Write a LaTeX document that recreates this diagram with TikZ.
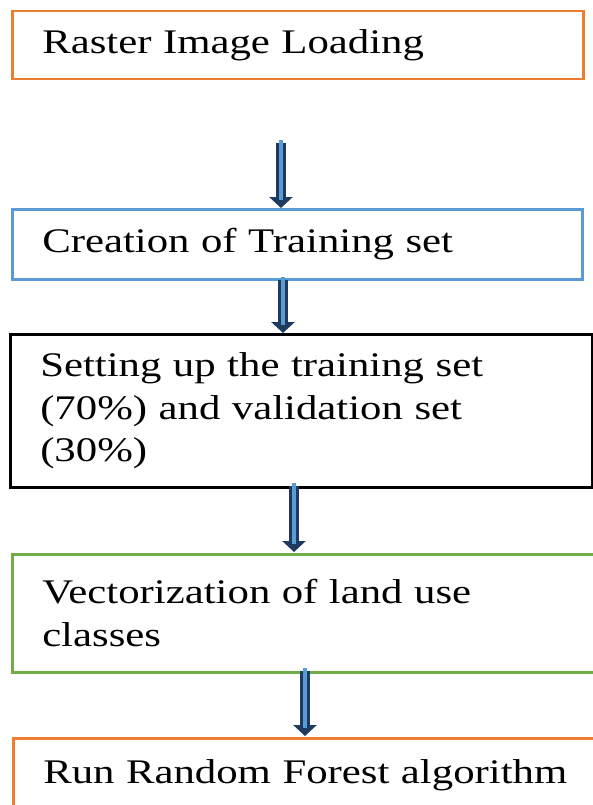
\documentclass[tikz,border=0pt]{standalone}
\usepackage{fontspec}
\setmainfont[FakeStretch=1.24]{Liberation Serif}
\usetikzlibrary{arrows.meta}
\definecolor{boxorange}{HTML}{ED7D31}
\definecolor{boxblue}{HTML}{5B9BD5}
\definecolor{boxgreen}{HTML}{70AD47}
\definecolor{arrowedge}{HTML}{1F3A5F}
\definecolor{arrowfill}{HTML}{5B9BD5}
\tikzset{
  stepbox/.style={draw, line width=2.5pt, anchor=north west, align=left,
    inner xsep=30pt, inner ysep=0pt, font=\fontsize{34.5}{42.5}\selectfont},
  blockarrow/.style={line width=10pt, arrowedge,
    -{Triangle[length=11pt,width=23pt]}, shorten >=0pt},
  blockcore/.style={line width=4pt, arrowfill, shorten >=8pt},
}
\begin{document}
\begin{tikzpicture}[x=1pt,y=-1pt]
\useasboundingbox (0,0) rectangle (593,805);
\clip (0,0) rectangle (593,805);
\node[stepbox, draw=boxorange, minimum width=571pt, minimum height=68pt, text width=511pt] (load) at (11,10) {Raster Image Loading};
\node[stepbox, draw=boxblue, minimum width=570pt, minimum height=70pt, text width=510pt] (train) at (11,208) {Creation of Training set};
\node[stepbox, draw=black, minimum width=582pt, minimum height=153pt, text width=522pt] (split) at (9,333) {Setting up the training set\\(70\%) and validation set\\(30\%)};
\node[stepbox, draw=boxgreen, minimum width=590pt, minimum height=118pt, text width=530pt] (vect) at (11,553) {Vectorization of land use\\classes};
\node[stepbox, draw=boxorange, minimum width=590pt, minimum height=74pt, text width=530pt] (run) at (12,737) {Run Random Forest algorithm};
% free ends of the block arrows between the steps
\coordinate (a1s) at (281,143);
\coordinate (a1e) at (281,208);
\coordinate (a2s) at (283,280);
\coordinate (a2e) at (283,333);
\coordinate (a3s) at (294,486);
\coordinate (a3e) at (294,552);
\coordinate (a4s) at (305,671);
\coordinate (a4e) at (305,736);
\foreach \s/\e in {a1s/a1e, a2s/a2e, a3s/a3e, a4s/a4e}{
  \draw[blockarrow] (\s) -- (\e);
  \draw[blockcore] ([yshift=3pt]\s) -- (\e);
}
\end{tikzpicture}
\end{document}
